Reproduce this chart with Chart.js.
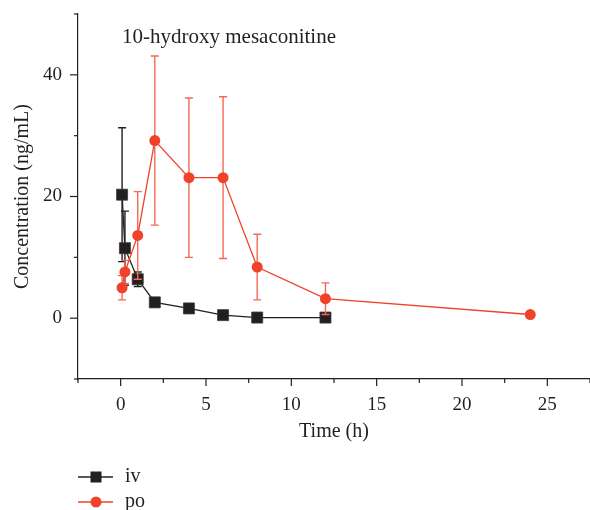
<!DOCTYPE html>
<html>
<head>
<meta charset="utf-8">
<script src="https://cdn.jsdelivr.net/npm/chart.js@4.4.0/dist/chart.umd.min.js"></script>
<style>
  html, body { margin: 0; padding: 0; background: #fff; }
  #wrap { width: 590px; height: 510px; }
</style>
</head>
<body>
<div id="wrap"><canvas id="chart" width="590" height="510"></canvas></div>
<script>
// sampling times (h)
const ivTimes = [0.083, 0.25, 1, 2, 4, 6, 8, 12];
const poTimes = [0.083, 0.25, 1, 2, 4, 6, 8, 12, 24];
// mean concentration (ng/mL) and SD
const ivMean = [20.3, 11.5, 6.4, 2.6, 1.6, 0.5, 0.1, 0.1];
const ivSD = [11.0, 6.1, 1.2, 0.5, 0.4, 0.2, 0.1, 0.1];
const poMean = [5.0, 7.6, 13.6, 29.2, 23.1, 23.1, 8.4, 3.2, 0.6];
const poSD = [2.0, 1.9, 7.2, 13.9, 13.1, 13.3, 5.4, 2.6, 0.3];
// axis ticks
const xMin = -2.5, xMax = 27.5, xStep = 2.5;
const yMin = -10, yMax = 50, yStep = 10;
const xLabels = [0, 5, 10, 15, 20, 25];
const yLabels = [0, 20, 40];
const seriesNames = ['iv', 'po'];
const plotTitle = '10-hydroxy mesaconitine';

const INK = '#231f20';
const RED = '#ef4229';
const RED_ERR = '#f26a55';
const FONT = "'Liberation Serif', 'Times New Roman', serif";

Chart.defaults.font.family = FONT;
Chart.defaults.color = INK;

const toXY = (xs, ys) => xs.map((x, i) => ({ x: x, y: ys[i] }));

// error bars, drawn under each dataset's own markers
const errorBars = {
  id: 'errorBars',
  beforeDatasetDraw(chart, args) {
    const ds = chart.data.datasets[args.index];
    if (!ds.sd) return;
    const { ctx, scales: { x, y } } = chart;
    ctx.save();
    ctx.strokeStyle = ds.errColor;
    ctx.lineWidth = 1.4;
    ds.data.forEach((p, i) => {
      const px = x.getPixelForValue(p.x);
      const top = y.getPixelForValue(p.y + ds.sd[i]);
      const bot = y.getPixelForValue(p.y - ds.sd[i]);
      ctx.beginPath();
      ctx.moveTo(px, top); ctx.lineTo(px, bot);
      ctx.moveTo(px - 4, top); ctx.lineTo(px + 4, top);
      ctx.moveTo(px - 4, bot); ctx.lineTo(px + 4, bot);
      ctx.stroke();
    });
    ctx.restore();
  }
};

// tick marks (major longer than minor), title and legend
const decorations = {
  id: 'decorations',
  afterDraw(chart) {
    const { ctx, scales: { x, y } } = chart;
    ctx.save();
    ctx.strokeStyle = INK;
    ctx.lineWidth = 1.2;
    x.ticks.forEach(t => {
      const px = x.getPixelForValue(t.value);
      const len = xLabels.includes(t.value) ? 7 : 4;
      ctx.beginPath();
      ctx.moveTo(px, x.top); ctx.lineTo(px, x.top + len);
      ctx.stroke();
    });
    y.ticks.forEach(t => {
      const py = y.getPixelForValue(t.value);
      const len = yLabels.includes(t.value) ? 8 : 4;
      ctx.beginPath();
      ctx.moveTo(y.right, py); ctx.lineTo(y.right - len, py);
      ctx.stroke();
    });

    // title inside plot
    ctx.fillStyle = INK;
    ctx.font = '21px ' + FONT;
    ctx.textBaseline = 'alphabetic';
    ctx.textAlign = 'left';
    ctx.fillText(plotTitle, 122, 43);

    // legend
    const rows = [477, 502];
    chart.data.datasets.forEach((ds, i) => {
      const ly = rows[i];
      ctx.strokeStyle = ds.borderColor;
      ctx.lineWidth = 1.3;
      ctx.beginPath();
      ctx.moveTo(78, ly); ctx.lineTo(113, ly);
      ctx.stroke();
      ctx.fillStyle = ds.backgroundColor;
      if (ds.pointStyle === 'rect') {
        ctx.fillRect(90.5, ly - 5.5, 11, 11);
      } else {
        ctx.beginPath();
        ctx.arc(96, ly, 5.5, 0, Math.PI * 2);
        ctx.fill();
      }
      ctx.fillStyle = INK;
      ctx.font = '20px ' + FONT;
      ctx.textBaseline = 'middle';
      ctx.fillText(ds.label, 125, ly);
    });
    ctx.restore();
  }
};

new Chart(document.getElementById('chart'), {
  type: 'scatter',
  data: {
    datasets: [
      {
        label: seriesNames[0],
        data: toXY(ivTimes, ivMean),
        sd: ivSD,
        errColor: INK,
        showLine: true,
        borderColor: INK,
        backgroundColor: INK,
        borderWidth: 1.3,
        pointStyle: 'rect',
        pointRadius: 7.8,
        pointBorderColor: '#3c3a3a',
        pointBorderWidth: 0.8,
        order: 1
      },
      {
        label: seriesNames[1],
        data: toXY(poTimes, poMean),
        sd: poSD,
        errColor: RED_ERR,
        showLine: true,
        borderColor: RED,
        backgroundColor: RED,
        borderWidth: 1.3,
        pointStyle: 'circle',
        pointRadius: 5.5,
        pointBorderWidth: 0,
        order: 0
      }
    ]
  },
  options: {
    responsive: false,
    animation: false,
    events: [],
    layout: { autoPadding: false, padding: { top: 14, right: 0, bottom: 66, left: 0 } },
    plugins: { legend: { display: false }, tooltip: { enabled: false } },
    scales: {
      x: {
        type: 'linear',
        min: xMin, max: xMax,
        afterFit(scale) {
          scale.height = 65;
          scale.paddingLeft = 0;
          scale.paddingRight = 0;
        },
        border: { display: true, color: INK, width: 1.2 },
        grid: { drawOnChartArea: false, tickLength: 7, tickColor: 'rgba(0,0,0,0)' },
        ticks: {
          stepSize: xStep,
          autoSkip: false,
          maxRotation: 0,
          padding: 8,
          font: { size: 19 },
          callback: v => xLabels.includes(v) ? String(v) : ''
        },
        title: { display: true, text: 'Time (h)', font: { size: 20 }, padding: { top: 0, bottom: 0 } }
      },
      y: {
        type: 'linear',
        min: yMin, max: yMax,
        afterFit(scale) {
          scale.width = 78;
          scale.paddingTop = 0;
          scale.paddingBottom = 0;
        },
        border: { display: true, color: INK, width: 1.2 },
        grid: { drawOnChartArea: false, tickLength: 8, tickColor: 'rgba(0,0,0,0)' },
        ticks: {
          stepSize: yStep,
          autoSkip: false,
          padding: 8,
          font: { size: 19 },
          callback: v => yLabels.includes(v) ? String(v) : ''
        },
        title: { display: true, text: 'Concentration (ng/mL)', font: { size: 20 }, padding: { top: 11, bottom: 0 } }
      }
    }
  },
  plugins: [errorBars, decorations]
});
</script>
</body>
</html>
